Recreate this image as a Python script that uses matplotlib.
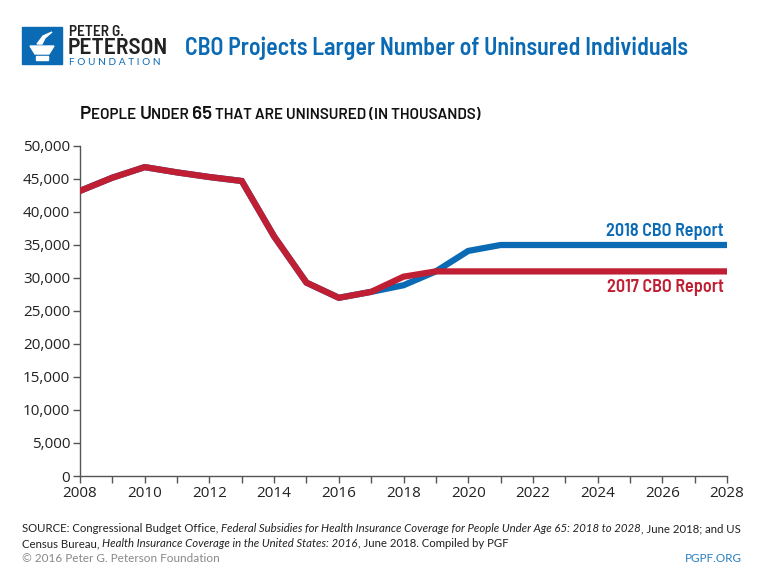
import matplotlib
matplotlib.use("Agg")
import matplotlib.pyplot as plt
from matplotlib import font_manager
from matplotlib.patches import Rectangle, Polygon

years = list(range(2008, 2029))
cbo_2018 = [43200, 45200, 46800, 46000, 45300, 44700, 36300, 29300, 27000, 27900,
            28900, 31000, 34100, 35000, 35000, 35000, 35000, 35000, 35000, 35000, 35000]
cbo_2017 = [43200, 45200, 46800, 46000, 45300, 44700, 36300, 29300, 27000, 27900,
            30200, 31000, 31000, 31000, 31000, 31000, 31000, 31000, 31000, 31000, 31000]
yticks = list(range(0, 50001, 5000))

BLUE = "#0a6ab4"
RED = "#c01f33"

names = {f.name for f in font_manager.fontManager.ttflist}
if "Barlow Semi Condensed" in names:
    cond = "Barlow Semi Condensed"
    k = 1.0
else:
    cond = "DejaVu Sans"
    k = 0.78
wide = "Barlow" if "Barlow" in names else cond
foot = "Lato" if "Lato" in names else "DejaVu Sans"
tick = "Open Sans" if "Open Sans" in names else "DejaVu Sans"

fig = plt.figure(figsize=(7.68, 5.76), dpi=100)
ax = fig.add_axes([80 / 768, 1 - 476 / 576, 647 / 768, 330 / 576])

ax.plot(years, cbo_2018, color=BLUE, lw=4.5, solid_joinstyle="miter", zorder=2)
ax.plot(years, cbo_2017, color=RED, lw=4.5, solid_joinstyle="miter", zorder=3)

ax.set_xlim(2008, 2028)
ax.set_ylim(0, 50000)
ax.set_yticks(yticks)
ax.set_yticklabels([f"{v:,}" for v in yticks])
ax.set_xticks(range(2008, 2029, 2))
ax.set_xticks(range(2009, 2028, 2), minor=True)
for s in ["top", "right"]:
    ax.spines[s].set_visible(False)
for s in ["left", "bottom"]:
    ax.spines[s].set_color("#555555")
    ax.spines[s].set_linewidth(1)
ax.tick_params(which="both", color="#555555", length=5, width=1, direction="out")
ax.tick_params(labelsize=11, pad=2, labelcolor="#222222")
for lab in ax.get_xticklabels() + ax.get_yticklabels():
    lab.set_family(tick)

ax.text(2027.9, 35700, "2018 CBO Report", color=BLUE, ha="right", va="bottom",
        fontsize=13 * k, family=cond, weight="semibold")
ax.text(2027.9, 29800, "2017 CBO Report", color=RED, ha="right", va="top",
        fontsize=13 * k, family=cond, weight="semibold")

# header
fig.text(185 / 768, 1 - 48 / 576, "CBO Projects Larger Number of Uninsured Individuals",
         color=BLUE, fontsize=17.2 * k, family=cond, weight="semibold", va="center")

# logo
fig.patches.append(Rectangle((22 / 768, 1 - 64 / 576), 40 / 768, 37 / 576,
                             transform=fig.transFigure, color=BLUE))
fig.patches.append(Polygon([(30 / 768, 1 - 46 / 576), (54 / 768, 1 - 46 / 576),
                            (49 / 768, 1 - 54 / 576), (35 / 768, 1 - 54 / 576)],
                           closed=True, transform=fig.transFigure, color="white"))
fig.patches.append(Rectangle((36 / 768, 1 - 60 / 576), 12 / 768, 4 / 576,
                             transform=fig.transFigure, color="white"))
fig.patches.append(Polygon([(37 / 768, 1 - 44 / 576), (43 / 768, 1 - 36 / 576),
                            (52 / 768, 1 - 32 / 576), (45 / 768, 1 - 38 / 576),
                            (42 / 768, 1 - 44 / 576)],
                           closed=True, transform=fig.transFigure, color="white"))
fig.text(69 / 768, 1 - 32 / 576, "PETER G.", fontsize=11 * k, family=cond, weight="semibold",
         color="#222222", va="center")
fig.text(68 / 768, 1 - 47.5 / 576, "PETERSON", fontsize=17 * k, family=cond, weight="semibold",
         color="#222222", va="center")
fig.text(69 / 768, 1 - 62.5 / 576, "F O U N D A T I O N", fontsize=7.3 * k, family=foot,
         color=BLUE, va="center")

fig.canvas.draw()
renderer = fig.canvas.get_renderer()


def run_text(x_px, y_px, parts, **kw):
    # draw pieces one after another on the same baseline
    x = x_px / 768
    for txt, extra in parts:
        opts = dict(kw)
        opts.update(extra)
        t = fig.text(x, 1 - y_px / 576, txt, va="baseline", **opts)
        bb = t.get_window_extent(renderer)
        x = bb.x1 / fig.bbox.width


big = {"fontsize": 13.6 * k}
small = {"fontsize": 10.9 * k}
run_text(80, 119, [("P", big), ("EOPLE ", small), ("U", big), ("NDER ", small),
                   ("65", big), (" THAT ARE UNINSURED (IN THOUSANDS)", small)],
         family=wide, weight="semibold", color="#111111")

src = dict(family=foot, color="#222222", fontsize=8.2)
run_text(22, 532, [("SOURCE: Congressional Budget Office, ", {}),
                   ("Federal Subsidies for Health Insurance Coverage for People Under Age 65: 2018 to 2028",
                    {"style": "italic"}),
                   (", June 2018; and US", {})], **src)
run_text(22, 547, [("Census Bureau, ", {}),
                   ("Health Insurance Coverage in the United States: 2016", {"style": "italic"}),
                   (", June 2018. Compiled by PGF", {})], **src)
fig.text(22 / 768, 1 - 562 / 576, "\u00a9 2016 Peter G. Peterson Foundation", fontsize=8.5,
         family=foot, color="#888888", va="baseline")
fig.text(742 / 768, 1 - 562 / 576, "PGPF.ORG", fontsize=8.5, family=foot, color="#2a7fc0",
         ha="right", va="baseline")

fig.savefig("out.png", dpi=100)
